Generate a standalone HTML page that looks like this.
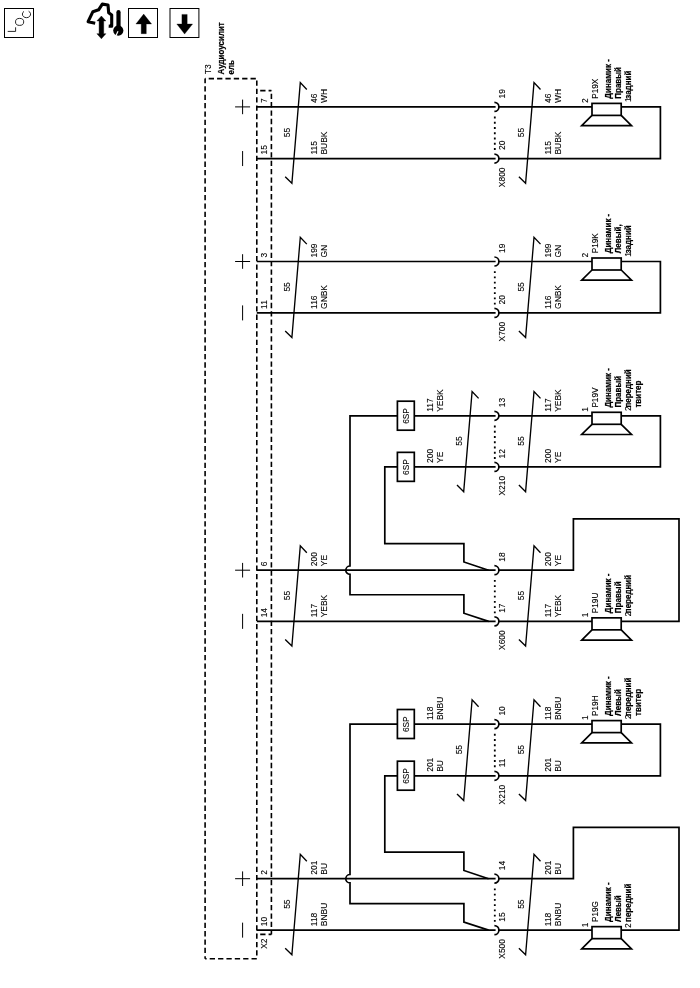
<!DOCTYPE html>
<html><head><meta charset="utf-8"><title>Wiring diagram</title>
<style>
html,body{margin:0;padding:0;background:#fff;width:700px;height:988px;overflow:hidden;}
svg{display:block;will-change:transform;font-family:"Liberation Sans",sans-serif;font-size:8px;fill:#000;}
text{stroke:#000;stroke-width:0.1;}
text[font-weight=bold]{stroke-width:0.2;}
.w{stroke:#000;stroke-width:1.7;fill:none;}
rect.w{fill:#fff;}
.t{stroke:#000;stroke-width:1.0;fill:none;}
.i{stroke:#000;stroke-width:0.85;fill:none;}
.s{stroke:#000;stroke-width:1.35;fill:none;stroke-linejoin:miter;}
.d{stroke:#000;stroke-width:1.8;fill:none;stroke-dasharray:1.9 3.35;}
.dash{stroke:#000;stroke-width:1.6;fill:none;stroke-dasharray:5.3 3.064;stroke-linecap:butt;}
</style></head><body>
<svg width="700" height="988" viewBox="0 0 700 988">
<rect width="700" height="988" fill="#fff" stroke="none"/>

<rect x="4.5" y="8.5" width="29" height="29" class="t" stroke-width="1.05"/>
<path d="M7.7,31.4 H15.6 V27.3" class="i"/>
<ellipse cx="19.6" cy="21.9" rx="4.1" ry="3.5" class="i"/>
<path d="M24.0,11.4 A4.1,3.5 0 1 0 28.6,11.2" class="i"/>
<path d="M95.2,23.3 L88.1,21.7 L92.9,11.7 L98.6,9.8 L102.3,4.1 L108,5.0 L108.7,12.8 L111.7,15.1 L111.7,26.3 L108.7,26.1" fill="none" stroke="#000" stroke-width="3.1" stroke-linejoin="round" stroke-linecap="butt"/>
<path d="M101.4,16.0 L105.9,20.9 L103.7,20.9 L103.7,33.7 L105.9,33.7 L101.4,38.8 L96.9,33.7 L99.1,33.7 L99.1,20.9 L96.9,20.9 Z" fill="#000" stroke="#000" stroke-width="0.4" stroke-linejoin="round"/>
<path d="M118.5,12.2 V30" stroke="#000" stroke-width="4.2" stroke-linecap="round" fill="none"/>
<circle cx="118.3" cy="30.6" r="5.1" fill="#000"/>
<path d="M118.0,31.2 L115.6,36.6" stroke="#fff" stroke-width="1.2" fill="none"/>
<rect x="128.5" y="8.5" width="29" height="29" class="t" stroke-width="1.05"/>
<path d="M143.7,14.1 L151.6,24 L146.3,24 L146.3,33.7 L141.2,33.7 L141.2,24 L135.9,24 Z" fill="#000" stroke="#000" stroke-width="0.3" stroke-linejoin="round"/>
<rect x="170" y="8.5" width="28.9" height="29" class="t" stroke-width="1.05"/>
<path d="M184.6,34.1 L192.6,24 L187.2,24 L187.2,14.4 L181.9,14.4 L181.9,24 L176.8,24 Z" fill="#000" stroke="#000" stroke-width="0.3" stroke-linejoin="round"/>

<path d="M256.8,106.90 H592.0 M621.2,106.90 H660.4 V158.55 H256.8" class="w"/>
<rect x="592.0" y="103.40" width="29.20" height="12" class="w" fill="#fff"/><path d="M592.0,115.40 L581.70,125.60 L631.50,125.60 L621.2,115.40" class="w"/>
<path d="M235.1,106.90 H250.1 M242.6,99.60 V114.20" class="t"/><path d="M242.6,151.05 V166.05" class="t"/><text transform="translate(267.00,102.90) rotate(-90) scale(1,1.021)" font-size="8.45">7</text><text transform="translate(267.00,154.55) rotate(-90) scale(1,1.021)" font-size="8.45">15</text><path d="M306.80,89.50 L300.30,82.60 L291.90,183.25 L285.20,176.65" class="s"/><text transform="translate(289.60,137.13) rotate(-90) scale(1,1.021)" font-size="8.45">55</text><text transform="translate(317.00,102.90) rotate(-90) scale(1,1.021)" font-size="8.45">46</text><text transform="translate(327.10,102.90) rotate(-90) scale(1,1.021)" font-size="8.45">WH</text><text transform="translate(317.00,154.55) rotate(-90) scale(1,1.021)" font-size="8.45">115</text><text transform="translate(327.10,154.55) rotate(-90) scale(1,1.021)" font-size="8.45">BUBK</text>
<rect x="495.6" y="105.40" width="2.6" height="3" fill="#fff" stroke="none"/><path d="M494.40,102.40 A4.5,4.5 0 0 1 494.40,111.40" class="w" stroke-width="1.4"/><rect x="495.6" y="157.05" width="2.6" height="3" fill="#fff" stroke="none"/><path d="M494.40,154.05 A4.5,4.5 0 0 1 494.40,163.05" class="w" stroke-width="1.4"/><path d="M494.80,116.60 V150.90" class="d"/><text transform="translate(505.10,98.40) rotate(-90) scale(1,1.021)" font-size="8.45">19</text><text transform="translate(505.10,150.05) rotate(-90) scale(1,1.021)" font-size="8.45">20</text><text transform="translate(505.10,167.45) rotate(-90) scale(1,1.021)" text-anchor="end" font-size="8.45">X800</text>
<path d="M540.50,89.50 L534.00,82.60 L525.60,183.25 L518.90,176.65" class="s"/><text transform="translate(524.30,137.13) rotate(-90) scale(1,1.021)" font-size="8.45">55</text><text transform="translate(550.80,102.90) rotate(-90) scale(1,1.021)" font-size="8.45">46</text><text transform="translate(560.90,102.90) rotate(-90) scale(1,1.021)" font-size="8.45">WH</text><text transform="translate(550.80,154.55) rotate(-90) scale(1,1.021)" font-size="8.45">115</text><text transform="translate(560.90,154.55) rotate(-90) scale(1,1.021)" font-size="8.45">BUBK</text>
<text transform="translate(588.00,102.90) rotate(-90) scale(1,1.021)" font-size="8.45">2</text><text transform="translate(598.40,98.70) rotate(-90) scale(1,1.053)" font-size="8.2">P19X</text><text transform="translate(610.60,98.70) rotate(-90) scale(1,1.079)" font-weight="bold">Динамик -</text><text transform="translate(620.80,98.70) rotate(-90) scale(1,1.079)" font-weight="bold">Правый</text><text transform="translate(631.00,98.70) rotate(-90) scale(1,1.079)" font-weight="bold">задний</text><text transform="translate(631.20,102.10) rotate(-90) scale(1,1.021)" font-size="8.45">1</text>
<path d="M256.8,261.50 H592.0 M621.2,261.50 H660.4 V312.90 H256.8" class="w"/>
<rect x="592.0" y="258.00" width="29.20" height="12" class="w" fill="#fff"/><path d="M592.0,270.00 L581.70,280.20 L631.50,280.20 L621.2,270.00" class="w"/>
<path d="M235.1,261.50 H250.1 M242.6,254.20 V268.80" class="t"/><path d="M242.6,305.40 V320.40" class="t"/><text transform="translate(267.00,257.50) rotate(-90) scale(1,1.021)" font-size="8.45">3</text><text transform="translate(267.00,308.90) rotate(-90) scale(1,1.021)" font-size="8.45">11</text><path d="M306.80,244.10 L300.30,237.20 L291.90,337.60 L285.20,331.00" class="s"/><text transform="translate(289.60,291.60) rotate(-90) scale(1,1.021)" font-size="8.45">55</text><text transform="translate(317.00,257.50) rotate(-90) scale(1,1.021)" font-size="8.45">199</text><text transform="translate(327.10,257.50) rotate(-90) scale(1,1.021)" font-size="8.45">GN</text><text transform="translate(317.00,308.90) rotate(-90) scale(1,1.021)" font-size="8.45">116</text><text transform="translate(327.10,308.90) rotate(-90) scale(1,1.021)" font-size="8.45">GNBK</text>
<rect x="495.6" y="260.00" width="2.6" height="3" fill="#fff" stroke="none"/><path d="M494.40,257.00 A4.5,4.5 0 0 1 494.40,266.00" class="w" stroke-width="1.4"/><rect x="495.6" y="311.40" width="2.6" height="3" fill="#fff" stroke="none"/><path d="M494.40,308.40 A4.5,4.5 0 0 1 494.40,317.40" class="w" stroke-width="1.4"/><path d="M494.80,271.20 V305.50" class="d"/><text transform="translate(505.10,253.00) rotate(-90) scale(1,1.021)" font-size="8.45">19</text><text transform="translate(505.10,304.40) rotate(-90) scale(1,1.021)" font-size="8.45">20</text><text transform="translate(505.10,321.80) rotate(-90) scale(1,1.021)" text-anchor="end" font-size="8.45">X700</text>
<path d="M540.50,244.10 L534.00,237.20 L525.60,337.60 L518.90,331.00" class="s"/><text transform="translate(524.30,291.60) rotate(-90) scale(1,1.021)" font-size="8.45">55</text><text transform="translate(550.80,257.50) rotate(-90) scale(1,1.021)" font-size="8.45">199</text><text transform="translate(560.90,257.50) rotate(-90) scale(1,1.021)" font-size="8.45">GN</text><text transform="translate(550.80,308.90) rotate(-90) scale(1,1.021)" font-size="8.45">116</text><text transform="translate(560.90,308.90) rotate(-90) scale(1,1.021)" font-size="8.45">GNBK</text>
<text transform="translate(588.00,257.50) rotate(-90) scale(1,1.021)" font-size="8.45">2</text><text transform="translate(598.40,253.30) rotate(-90) scale(1,1.053)" font-size="8.2">P19K</text><text transform="translate(610.60,253.30) rotate(-90) scale(1,1.079)" font-weight="bold">Динамик -</text><text transform="translate(620.80,253.30) rotate(-90) scale(1,1.079)" font-weight="bold">Левый,</text><text transform="translate(631.00,253.30) rotate(-90) scale(1,1.079)" font-weight="bold">задний</text><text transform="translate(631.20,256.70) rotate(-90) scale(1,1.021)" font-size="8.45">1</text>
<path d="M256.8,570.20 H573.4 V518.80 H679 V621.35 H621.2" class="w"/>
<path d="M256.8,621.35 H592.0" class="w"/>
<rect x="592.0" y="617.85" width="29.20" height="12" class="w" fill="#fff"/><path d="M592.0,629.85 L581.70,640.05 L631.50,640.05 L621.2,629.85" class="w"/>
<path d="M488.6,621.35 L463.9,613.25 V594.75 H350.0 V574.40 A4.2,4.2 0 0 1 350.0,566.00 V415.80 H592.0 M621.2,415.80 H660.4 V466.95 H384.8 V543.60 H463.9 V562.00 L488.6,570.20" class="w"/>
<rect x="592.0" y="412.30" width="29.20" height="12" class="w" fill="#fff"/><path d="M592.0,424.30 L581.70,434.50 L631.50,434.50 L621.2,424.30" class="w"/>
<rect x="397.4" y="401.20" width="16.9" height="29" class="w" fill="#fff"/>
<text transform="translate(409.20,423.80) rotate(-90) scale(1,1.040)" font-size="8.3">6SP</text>
<rect x="397.4" y="452.35" width="16.9" height="29" class="w" fill="#fff"/>
<text transform="translate(409.20,474.95) rotate(-90) scale(1,1.040)" font-size="8.3">6SP</text>
<path d="M235.1,570.20 H250.1 M242.6,562.90 V577.50" class="t"/><path d="M242.6,613.85 V628.85" class="t"/><text transform="translate(267.00,566.20) rotate(-90) scale(1,1.021)" font-size="8.45">6</text><text transform="translate(267.00,617.35) rotate(-90) scale(1,1.021)" font-size="8.45">14</text><path d="M306.80,552.80 L300.30,545.90 L291.90,646.05 L285.20,639.45" class="s"/><text transform="translate(289.60,600.18) rotate(-90) scale(1,1.021)" font-size="8.45">55</text><text transform="translate(317.00,566.20) rotate(-90) scale(1,1.021)" font-size="8.45">200</text><text transform="translate(327.10,566.20) rotate(-90) scale(1,1.021)" font-size="8.45">YE</text><text transform="translate(317.00,617.35) rotate(-90) scale(1,1.021)" font-size="8.45">117</text><text transform="translate(327.10,617.35) rotate(-90) scale(1,1.021)" font-size="8.45">YEBK</text>
<rect x="495.6" y="568.70" width="2.6" height="3" fill="#fff" stroke="none"/><path d="M494.40,565.70 A4.5,4.5 0 0 1 494.40,574.70" class="w" stroke-width="1.4"/><rect x="495.6" y="619.85" width="2.6" height="3" fill="#fff" stroke="none"/><path d="M494.40,616.85 A4.5,4.5 0 0 1 494.40,625.85" class="w" stroke-width="1.4"/><path d="M494.80,579.90 V614.20" class="d"/><text transform="translate(505.10,561.70) rotate(-90) scale(1,1.021)" font-size="8.45">18</text><text transform="translate(505.10,612.85) rotate(-90) scale(1,1.021)" font-size="8.45">17</text><text transform="translate(505.10,630.25) rotate(-90) scale(1,1.021)" text-anchor="end" font-size="8.45">X600</text>
<path d="M540.50,552.80 L534.00,545.90 L525.60,646.05 L518.90,639.45" class="s"/><text transform="translate(524.30,600.18) rotate(-90) scale(1,1.021)" font-size="8.45">55</text><text transform="translate(550.80,566.20) rotate(-90) scale(1,1.021)" font-size="8.45">200</text><text transform="translate(560.90,566.20) rotate(-90) scale(1,1.021)" font-size="8.45">YE</text><text transform="translate(550.80,617.35) rotate(-90) scale(1,1.021)" font-size="8.45">117</text><text transform="translate(560.90,617.35) rotate(-90) scale(1,1.021)" font-size="8.45">YEBK</text>
<text transform="translate(588.00,617.35) rotate(-90) scale(1,1.021)" font-size="8.45">1</text><text transform="translate(598.40,613.15) rotate(-90) scale(1,1.053)" font-size="8.2">P19U</text><text transform="translate(610.60,613.15) rotate(-90) scale(1,1.079)" font-weight="bold">Динамик -</text><text transform="translate(620.80,613.15) rotate(-90) scale(1,1.079)" font-weight="bold">Правый</text><text transform="translate(631.00,613.15) rotate(-90) scale(1,1.079)" font-weight="bold">передний</text><text transform="translate(631.20,616.55) rotate(-90) scale(1,1.021)" font-size="8.45">2</text>
<text transform="translate(433.20,411.80) rotate(-90) scale(1,1.021)" font-size="8.45">117</text><text transform="translate(443.30,411.80) rotate(-90) scale(1,1.021)" font-size="8.45">YEBK</text><text transform="translate(433.20,462.95) rotate(-90) scale(1,1.021)" font-size="8.45">200</text><text transform="translate(443.30,462.95) rotate(-90) scale(1,1.021)" font-size="8.45">YE</text>
<path d="M478.60,398.40 L472.10,391.50 L463.70,491.65 L457.00,485.05" class="s"/>
<text transform="translate(462.20,445.77) rotate(-90) scale(1,1.021)" font-size="8.45">55</text>
<rect x="495.6" y="414.30" width="2.6" height="3" fill="#fff" stroke="none"/><path d="M494.40,411.30 A4.5,4.5 0 0 1 494.40,420.30" class="w" stroke-width="1.4"/><rect x="495.6" y="465.45" width="2.6" height="3" fill="#fff" stroke="none"/><path d="M494.40,462.45 A4.5,4.5 0 0 1 494.40,471.45" class="w" stroke-width="1.4"/><path d="M494.80,425.50 V459.80" class="d"/><text transform="translate(505.10,407.30) rotate(-90) scale(1,1.021)" font-size="8.45">13</text><text transform="translate(505.10,458.45) rotate(-90) scale(1,1.021)" font-size="8.45">12</text><text transform="translate(505.10,475.85) rotate(-90) scale(1,1.021)" text-anchor="end" font-size="8.45">X210</text>
<path d="M540.50,398.40 L534.00,391.50 L525.60,491.65 L518.90,485.05" class="s"/><text transform="translate(524.30,445.77) rotate(-90) scale(1,1.021)" font-size="8.45">55</text><text transform="translate(550.80,411.80) rotate(-90) scale(1,1.021)" font-size="8.45">117</text><text transform="translate(560.90,411.80) rotate(-90) scale(1,1.021)" font-size="8.45">YEBK</text><text transform="translate(550.80,462.95) rotate(-90) scale(1,1.021)" font-size="8.45">200</text><text transform="translate(560.90,462.95) rotate(-90) scale(1,1.021)" font-size="8.45">YE</text>
<text transform="translate(588.00,411.80) rotate(-90) scale(1,1.021)" font-size="8.45">1</text><text transform="translate(598.40,407.60) rotate(-90) scale(1,1.053)" font-size="8.2">P19V</text><text transform="translate(610.60,407.60) rotate(-90) scale(1,1.079)" font-weight="bold">Динамик -</text><text transform="translate(620.80,407.60) rotate(-90) scale(1,1.079)" font-weight="bold">Правый</text><text transform="translate(631.00,407.60) rotate(-90) scale(1,1.079)" font-weight="bold">передний</text><text transform="translate(641.20,407.60) rotate(-90) scale(1,1.079)" font-weight="bold">твитер</text><text transform="translate(631.20,411.00) rotate(-90) scale(1,1.021)" font-size="8.45">2</text>
<path d="M256.8,878.70 H573.4 V827.30 H679 V930.15 H621.2" class="w"/>
<path d="M256.8,930.15 H592.0" class="w"/>
<rect x="592.0" y="926.65" width="29.20" height="12" class="w" fill="#fff"/><path d="M592.0,938.65 L581.70,948.85 L631.50,948.85 L621.2,938.65" class="w"/>
<path d="M488.6,930.15 L463.9,922.05 V903.55 H350.0 V882.90 A4.2,4.2 0 0 1 350.0,874.50 V724.10 H592.0 M621.2,724.10 H660.4 V775.80 H384.8 V852.10 H463.9 V870.50 L488.6,878.70" class="w"/>
<rect x="592.0" y="720.60" width="29.20" height="12" class="w" fill="#fff"/><path d="M592.0,732.60 L581.70,742.80 L631.50,742.80 L621.2,732.60" class="w"/>
<rect x="397.4" y="709.50" width="16.9" height="29" class="w" fill="#fff"/>
<text transform="translate(409.20,732.10) rotate(-90) scale(1,1.040)" font-size="8.3">6SP</text>
<rect x="397.4" y="761.20" width="16.9" height="29" class="w" fill="#fff"/>
<text transform="translate(409.20,783.80) rotate(-90) scale(1,1.040)" font-size="8.3">6SP</text>
<path d="M235.1,878.70 H250.1 M242.6,871.40 V886.00" class="t"/><path d="M242.6,922.65 V937.65" class="t"/><text transform="translate(267.00,874.70) rotate(-90) scale(1,1.021)" font-size="8.45">2</text><text transform="translate(267.00,926.15) rotate(-90) scale(1,1.021)" font-size="8.45">10</text><path d="M306.80,861.30 L300.30,854.40 L291.90,954.85 L285.20,948.25" class="s"/><text transform="translate(289.60,908.82) rotate(-90) scale(1,1.021)" font-size="8.45">55</text><text transform="translate(317.00,874.70) rotate(-90) scale(1,1.021)" font-size="8.45">201</text><text transform="translate(327.10,874.70) rotate(-90) scale(1,1.021)" font-size="8.45">BU</text><text transform="translate(317.00,926.15) rotate(-90) scale(1,1.021)" font-size="8.45">118</text><text transform="translate(327.10,926.15) rotate(-90) scale(1,1.021)" font-size="8.45">BNBU</text>
<rect x="495.6" y="877.20" width="2.6" height="3" fill="#fff" stroke="none"/><path d="M494.40,874.20 A4.5,4.5 0 0 1 494.40,883.20" class="w" stroke-width="1.4"/><rect x="495.6" y="928.65" width="2.6" height="3" fill="#fff" stroke="none"/><path d="M494.40,925.65 A4.5,4.5 0 0 1 494.40,934.65" class="w" stroke-width="1.4"/><path d="M494.80,888.40 V922.70" class="d"/><text transform="translate(505.10,870.20) rotate(-90) scale(1,1.021)" font-size="8.45">14</text><text transform="translate(505.10,921.65) rotate(-90) scale(1,1.021)" font-size="8.45">15</text><text transform="translate(505.10,939.05) rotate(-90) scale(1,1.021)" text-anchor="end" font-size="8.45">X500</text>
<path d="M540.50,861.30 L534.00,854.40 L525.60,954.85 L518.90,948.25" class="s"/><text transform="translate(524.30,908.82) rotate(-90) scale(1,1.021)" font-size="8.45">55</text><text transform="translate(550.80,874.70) rotate(-90) scale(1,1.021)" font-size="8.45">201</text><text transform="translate(560.90,874.70) rotate(-90) scale(1,1.021)" font-size="8.45">BU</text><text transform="translate(550.80,926.15) rotate(-90) scale(1,1.021)" font-size="8.45">118</text><text transform="translate(560.90,926.15) rotate(-90) scale(1,1.021)" font-size="8.45">BNBU</text>
<text transform="translate(588.00,927.25) rotate(-90) scale(1,1.021)" font-size="8.45">1</text><text transform="translate(598.40,921.95) rotate(-90) scale(1,1.053)" font-size="8.2">P19G</text><text transform="translate(610.60,921.95) rotate(-90) scale(1,1.079)" font-weight="bold">Динамик -</text><text transform="translate(620.80,921.95) rotate(-90) scale(1,1.079)" font-weight="bold">Левый</text><text transform="translate(631.00,921.95) rotate(-90) scale(1,1.079)" font-weight="bold">передний</text><text transform="translate(631.20,928.05) rotate(-90) scale(1,1.021)" font-size="8.45">2</text>
<text transform="translate(433.20,720.10) rotate(-90) scale(1,1.021)" font-size="8.45">118</text><text transform="translate(443.30,720.10) rotate(-90) scale(1,1.021)" font-size="8.45">BNBU</text><text transform="translate(433.20,771.80) rotate(-90) scale(1,1.021)" font-size="8.45">201</text><text transform="translate(443.30,771.80) rotate(-90) scale(1,1.021)" font-size="8.45">BU</text>
<path d="M478.60,706.70 L472.10,699.80 L463.70,800.50 L457.00,793.90" class="s"/>
<text transform="translate(462.20,754.35) rotate(-90) scale(1,1.021)" font-size="8.45">55</text>
<rect x="495.6" y="722.60" width="2.6" height="3" fill="#fff" stroke="none"/><path d="M494.40,719.60 A4.5,4.5 0 0 1 494.40,728.60" class="w" stroke-width="1.4"/><rect x="495.6" y="774.30" width="2.6" height="3" fill="#fff" stroke="none"/><path d="M494.40,771.30 A4.5,4.5 0 0 1 494.40,780.30" class="w" stroke-width="1.4"/><path d="M494.80,733.80 V768.10" class="d"/><text transform="translate(505.10,715.60) rotate(-90) scale(1,1.021)" font-size="8.45">10</text><text transform="translate(505.10,767.30) rotate(-90) scale(1,1.021)" font-size="8.45">11</text><text transform="translate(505.10,784.70) rotate(-90) scale(1,1.021)" text-anchor="end" font-size="8.45">X210</text>
<path d="M540.50,706.70 L534.00,699.80 L525.60,800.50 L518.90,793.90" class="s"/><text transform="translate(524.30,754.35) rotate(-90) scale(1,1.021)" font-size="8.45">55</text><text transform="translate(550.80,720.10) rotate(-90) scale(1,1.021)" font-size="8.45">118</text><text transform="translate(560.90,720.10) rotate(-90) scale(1,1.021)" font-size="8.45">BNBU</text><text transform="translate(550.80,771.80) rotate(-90) scale(1,1.021)" font-size="8.45">201</text><text transform="translate(560.90,771.80) rotate(-90) scale(1,1.021)" font-size="8.45">BU</text>
<text transform="translate(588.00,720.10) rotate(-90) scale(1,1.021)" font-size="8.45">1</text><text transform="translate(598.40,715.90) rotate(-90) scale(1,1.053)" font-size="8.2">P19H</text><text transform="translate(610.60,715.90) rotate(-90) scale(1,1.079)" font-weight="bold">Динамик -</text><text transform="translate(620.80,715.90) rotate(-90) scale(1,1.079)" font-weight="bold">Левый</text><text transform="translate(631.00,715.90) rotate(-90) scale(1,1.079)" font-weight="bold">передний</text><text transform="translate(641.20,715.90) rotate(-90) scale(1,1.079)" font-weight="bold">твитер</text><text transform="translate(631.20,719.30) rotate(-90) scale(1,1.021)" font-size="8.45">2</text>
<path d="M205.1,78.6 H256.8" class="dash" stroke-dashoffset="4.76"/>
<path d="M205.1,78.6 V958.7" class="dash" stroke-dashoffset="0.65"/>
<path d="M256.8,78.6 V958.7" class="dash" stroke-dashoffset="6.55"/>
<path d="M205.1,958.7 H256.8" class="dash" stroke-dashoffset="3.76"/>
<path d="M256.8,90.6 H271.4" class="dash" stroke-dashoffset="4.96"/>
<path d="M271.4,90.6 V934.4" class="dash" stroke-dashoffset="5.22"/>
<path d="M256.8,934.4 H271.4" class="dash" stroke-dashoffset="4.96"/>
<text transform="translate(211.00,74.20) rotate(-90) scale(1,1.021)" font-size="8.45">T3</text>
<text transform="translate(223.60,74.50) rotate(-90) scale(1,1.079)" font-weight="bold">Аудиоусилит</text>
<text transform="translate(234.20,74.50) rotate(-90) scale(1,1.079)" font-weight="bold">ель</text>
<text transform="translate(267.40,948.80) rotate(-90) scale(1,1.021)" font-size="8.45">X2</text>
</svg>
</body></html>
